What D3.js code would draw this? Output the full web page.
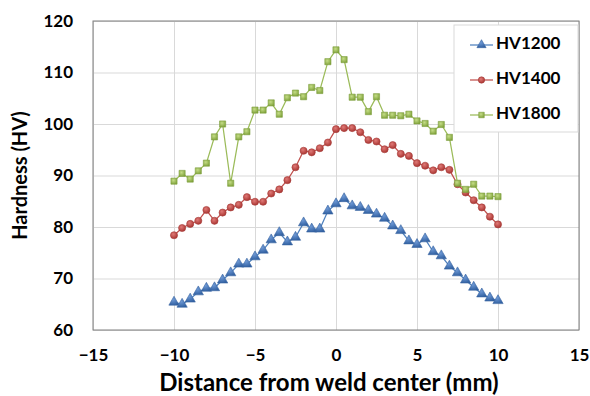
<!DOCTYPE html>
<html>
<head>
<meta charset="utf-8">
<script src="https://cdn.jsdelivr.net/npm/d3@7"></script>
<style>
  body { margin: 0; background: #fff; }
  svg text { font-family: Lato, "Liberation Sans", sans-serif; font-weight: bold; fill: #000; }
</style>
</head>
<body>
<div id="chart"></div>
<script>
// positions along the weld, -10 .. 10 mm every 0.5 mm
const distances = [-10, -9.5, -9, -8.5, -8, -7.5, -7, -6.5, -6, -5.5, -5, -4.5, -4, -3.5, -3, -2.5, -2, -1.5, -1, -0.5,
  0, 0.5, 1, 1.5, 2, 2.5, 3, 3.5, 4, 4.5, 5, 5.5, 6, 6.5, 7, 7.5, 8, 8.5, 9, 9.5, 10];

const hv1200 = [65.4, 65.0, 66.0, 67.4, 68.1, 68.2, 69.7, 71.1, 72.8, 72.8, 74.2, 75.5, 77.5, 78.9, 77.1, 78.0, 80.8, 79.6, 79.6, 83.1,
  84.5, 85.5, 84.1, 83.8, 83.2, 82.5, 81.7, 80.2, 79.3, 77.3, 76.6, 77.7, 75.2, 74.4, 72.4, 71.1, 69.7, 68.3, 67.0, 66.2, 65.7];

const hv1400 = [78.4, 79.8, 80.6, 81.2, 83.3, 81.2, 82.8, 83.8, 84.3, 85.8, 84.9, 84.9, 86.5, 87.3, 89.1, 91.6, 94.8, 94.5, 95.3, 96.4,
  99.0, 99.2, 99.2, 98.4, 96.9, 96.6, 95.1, 95.9, 94.2, 93.8, 92.4, 91.9, 91.0, 91.6, 91.1, 88.3, 86.7, 85.2, 83.8, 82.0, 80.5];

const hv1800 = [88.9, 90.4, 89.3, 90.9, 92.4, 97.5, 100.0, 88.5, 97.5, 98.5, 102.7, 102.7, 104.1, 101.9, 105.1, 106.0, 105.3, 107.1, 106.5, 112.1,
  114.4, 112.5, 105.2, 105.2, 102.4, 105.3, 101.7, 101.7, 101.6, 101.9, 100.6, 100.1, 98.6, 99.9, 97.4, 88.5, 87.3, 88.3, 86.0, 86.0, 85.9];

const seriesNames = ["HV1200", "HV1400", "HV1800"];
const xTicks = [-15, -10, -5, 0, 5, 10, 15];
const yTicks = [60, 70, 80, 90, 100, 110, 120];

const W = 590, H = 396;
const pLeft = 93, pRight = 579, pTop = 21, pBottom = 330;

const svg = d3.select('#chart').append('svg')
  .attr('width', W).attr('height', H);

const defs = svg.append('defs');

const x = d3.scaleLinear().domain([-15, 15]).range([pLeft, pRight]);
const y = d3.scaleLinear().domain([60, 120]).range([pBottom, pTop]);

// gridlines
svg.append('g')
  .attr('transform', `translate(${pLeft},0)`)
  .call(d3.axisLeft(y).tickValues(yTicks).tickSize(-(pRight - pLeft)).tickFormat(''))
  .call(g => g.select('.domain').remove())
  .call(g => g.selectAll('line').attr('stroke', '#d9d9d9').attr('stroke-width', 1));

svg.append('g')
  .attr('transform', `translate(0,${pBottom})`)
  .call(d3.axisBottom(x).tickValues(xTicks).tickSize(-(pBottom - pTop)).tickFormat(''))
  .call(g => g.select('.domain').remove())
  .call(g => g.selectAll('line').attr('stroke', '#d9d9d9').attr('stroke-width', 1));

// plot border
svg.append('rect')
  .attr('x', pLeft).attr('y', pTop)
  .attr('width', pRight - pLeft).attr('height', pBottom - pTop)
  .attr('fill', 'none').attr('stroke', '#7f7f7f').attr('stroke-width', 1);

// tick labels
svg.append('g')
  .attr('transform', `translate(${pLeft},0)`)
  .call(d3.axisLeft(y).tickValues(yTicks).tickSize(0).tickPadding(20))
  .call(g => g.select('.domain').remove())
  .call(g => g.selectAll('text').attr('font-size', 17).attr('font-family', null).attr('fill', '#000'));

svg.append('g')
  .attr('transform', `translate(0,${pBottom})`)
  .call(d3.axisBottom(x).tickValues(xTicks).tickSize(0).tickPadding(19))
  .call(g => g.select('.domain').remove())
  .call(g => g.selectAll('text').attr('font-size', 17).attr('font-family', null).attr('fill', '#000'));

// axis titles
svg.append('text')
  .attr('x', 329).attr('y', 385)
  .attr('text-anchor', 'middle').attr('dominant-baseline', 'middle')
  .attr('font-size', 24)
  .text('Distance from weld center (mm)');

svg.append('text')
  .attr('transform', `translate(22,${(pTop + pBottom) / 2}) rotate(-90)`)
  .attr('text-anchor', 'middle').attr('dominant-baseline', 'middle')
  .attr('font-size', 20)
  .text('Hardness (HV)');

// marker gradients (Excel 2007 style shading)
function grad(id, light, dark) {
  const g = defs.append('radialGradient').attr('id', id)
    .attr('cx', '40%').attr('cy', '35%').attr('r', '70%');
  g.append('stop').attr('offset', '0%').attr('stop-color', light);
  g.append('stop').attr('offset', '100%').attr('stop-color', dark);
}
grad('gBlue', '#6f9ad6', '#2f5e9f');
grad('gRed', '#e07a77', '#a6302d');
grad('gGreen', '#c4dc86', '#7fa23a');

const series = [
  {name: seriesNames[0], values: hv1200, line: '#4f81bd', fill: 'url(#gBlue)', stroke: '#3a67a3', shape: d3.symbolTriangle, size: 46},
  {name: seriesNames[1], values: hv1400, line: '#c0504d', fill: 'url(#gRed)', stroke: '#a63c39', shape: d3.symbolCircle, size: 40},
  {name: seriesNames[2], values: hv1800, line: '#9bbb59', fill: 'url(#gGreen)', stroke: '#7f9f3f', shape: d3.symbolSquare, size: 38}
];

const line = d3.line()
  .x((d, i) => x(distances[i]))
  .y(d => y(d));

series.forEach(s => {
  svg.append('path')
    .datum(s.values)
    .attr('fill', 'none')
    .attr('stroke', s.line)
    .attr('stroke-width', 1.25)
    .attr('d', line);

  svg.append('g').selectAll('path')
    .data(s.values)
    .join('path')
    .attr('transform', (d, i) => `translate(${x(distances[i])},${y(d)})`)
    .attr('d', d3.symbol().type(s.shape).size(s.size))
    .attr('fill', s.fill)
    .attr('stroke', s.stroke)
    .attr('stroke-width', 0.6);
});

// legend
const lg = svg.append('g');
lg.append('rect')
  .attr('x', 454).attr('y', 25).attr('width', 124).attr('height', 107)
  .attr('fill', '#fff').attr('stroke', '#d9d9d9');

series.forEach((s, i) => {
  const cy = 45 + i * 35;
  lg.append('line')
    .attr('x1', 470).attr('x2', 493).attr('y1', cy).attr('y2', cy)
    .attr('stroke', s.line).attr('stroke-width', 1.25);
  lg.append('path')
    .attr('transform', `translate(481.5,${cy})`)
    .attr('d', d3.symbol().type(s.shape).size(s.size * 0.8))
    .attr('fill', s.fill).attr('stroke', s.stroke).attr('stroke-width', 0.6);
  lg.append('text')
    .attr('x', 496).attr('y', cy)
    .attr('dominant-baseline', 'middle')
    .attr('font-size', 17)
    .text(s.name);
});
</script>
</body>
</html>
